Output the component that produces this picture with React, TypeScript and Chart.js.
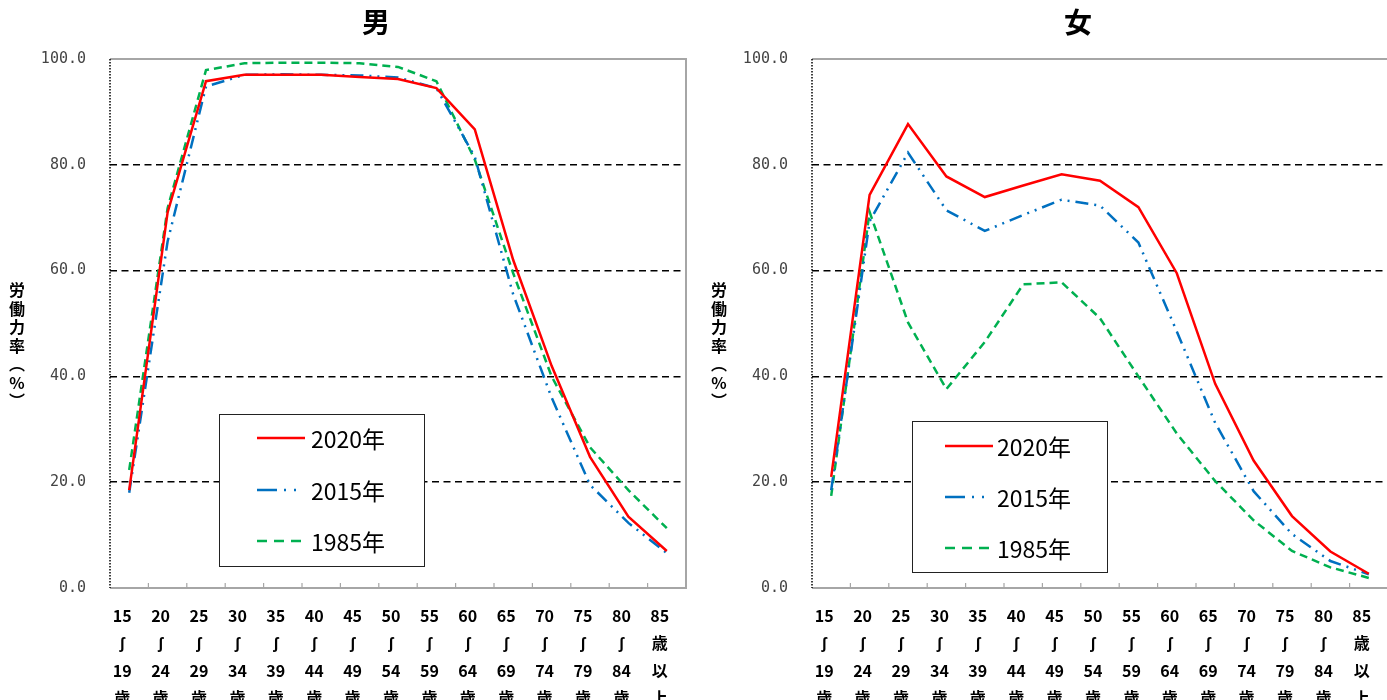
import React, { useEffect, useRef } from "react";
import { Chart, registerables } from "chart.js";

Chart.register(...registerables);

// ---------- data ----------
const ageFrom = ["15", "20", "25", "30", "35", "40", "45", "50", "55", "60", "65", "70", "75", "80", "85"];
const ageTo = ["19", "24", "29", "34", "39", "44", "49", "54", "59", "64", "69", "74", "79", "84"];
const lastLabel = ["85", "歳", "以", "上"];
const waveMark = "ʃ";
const yearUnit = "歳";

const seriesNames = ["2020年", "2015年", "1985年"];

const male2020 = [18.5, 71.0, 95.8, 97.0, 97.0, 97.0, 96.6, 96.2, 94.5, 86.7, 62.0, 42.0, 24.8, 13.5, 7.0];
const male2015 = [18.0, 65.5, 94.8, 97.0, 97.1, 97.0, 96.9, 96.5, 94.5, 81.5, 55.5, 36.0, 19.5, 12.3, 6.6];
const male1985 = [22.3, 71.8, 97.9, 99.2, 99.3, 99.3, 99.2, 98.5, 95.8, 81.0, 59.5, 40.0, 26.6, 18.5, 11.3];

const female2020 = [21.0, 74.3, 87.7, 77.8, 73.9, 76.1, 78.2, 77.0, 72.0, 59.5, 38.6, 24.1, 13.6, 6.9, 2.7];
const female2015 = [18.5, 69.3, 82.3, 71.4, 67.5, 70.5, 73.4, 72.3, 65.3, 48.5, 31.2, 18.3, 10.2, 5.1, 2.6];
const female1985 = [17.4, 71.1, 50.2, 37.6, 46.5, 57.4, 57.8, 51.0, 40.0, 29.2, 20.2, 12.8, 7.0, 3.9, 1.9];

const yTicks = [0, 20, 40, 60, 80, 100];
const yTitle = "労働力率（%）";
const titleMale = "男";
const titleFemale = "女";

// ---------- styles ----------
const CJK = "'Noto Sans CJK JP', 'Noto Sans CJK SC', sans-serif";
const seriesStyles = [
  { color: "#ff0000", dash: [] as number[], legendDash: [] as number[] },
  { color: "#0070c0", dash: [13, 6, 2, 6, 2, 6], legendDash: [20, 7, 2, 8, 2, 20] },
  { color: "#00b050", dash: [8, 5], legendDash: [10, 7] },
];

const categories = ageFrom.map((f, i) => (i < ageTo.length ? [f, waveMark, ageTo[i], yearUnit] : lastLabel));

const decorPlugin = {
  id: "decor",
  beforeDatasetsDraw(chart: any) {
    const { ctx, chartArea } = chart;
    const { left, right, top, bottom } = chartArea;
    const xs = chart.scales.x;
    ctx.save();
    ctx.strokeStyle = "#a6a6a6";
    ctx.lineWidth = 2;
    ctx.beginPath();
    ctx.moveTo(left, top);
    ctx.lineTo(right, top);
    ctx.lineTo(right, bottom);
    ctx.lineTo(left, bottom);
    ctx.stroke();
    // category boundary ticks
    ctx.lineWidth = 1.2;
    ctx.beginPath();
    for (let i = 1; i < categories.length; i++) {
      const x = (xs.getPixelForValue(i - 1) + xs.getPixelForValue(i)) / 2;
      ctx.moveTo(x, bottom - 5);
      ctx.lineTo(x, bottom);
    }
    ctx.stroke();
    // dotted left axis
    ctx.strokeStyle = "#000";
    ctx.lineWidth = 1.5;
    ctx.setLineDash([1.5, 1.5]);
    ctx.beginPath();
    ctx.moveTo(left, top);
    ctx.lineTo(left, bottom);
    ctx.stroke();
    ctx.restore();
  },
  afterDraw(chart: any, _args: any, opts: any) {
    const { ctx } = chart;
    ctx.save();
    // title
    ctx.fillStyle = "#000";
    ctx.font = `bold 28px ${CJK}`;
    ctx.textAlign = "center";
    ctx.textBaseline = "middle";
    ctx.fillText(opts.title, chart.width / 2, 22);
    // vertical y title
    ctx.font = `bold 16px ${CJK}`;
    const chars = Array.from(yTitle).map((c) => (c === "（" ? "︵" : c === "）" ? "︶" : c));
    chars.forEach((c, i) => {
      ctx.fillText(c, 17, 290 + i * 18.5);
    });
    // legend
    const b = opts.legend;
    ctx.fillStyle = "#fff";
    ctx.fillRect(b.x, b.y, b.w, b.h);
    ctx.strokeStyle = "#222";
    ctx.lineWidth = 1;
    ctx.strokeRect(b.x + 0.5, b.y + 0.5, b.w, b.h);
    seriesNames.forEach((name, i) => {
      const y = b.rows[i];
      const st = seriesStyles[i];
      ctx.strokeStyle = st.color;
      ctx.lineWidth = 2.5;
      ctx.setLineDash(st.legendDash);
      ctx.beginPath();
      ctx.moveTo(b.sx1, y);
      ctx.lineTo(b.sx2, y);
      ctx.stroke();
      ctx.setLineDash([]);
      ctx.fillStyle = "#000";
      ctx.font = `23px ${CJK}`;
      ctx.textAlign = "left";
      ctx.textBaseline = "middle";
      ctx.fillText(name, b.tx, y + 1);
    });
    ctx.restore();
  },
};

function makeConfig(title: string, series: number[][], legend: any): any {
  return {
    type: "line",
    data: {
      labels: categories,
      datasets: series.map((d, i) => ({
        label: seriesNames[i],
        data: d,
        borderColor: seriesStyles[i].color,
        backgroundColor: seriesStyles[i].color,
        borderWidth: 2.5,
        borderDash: seriesStyles[i].dash,
        pointRadius: 0,
        tension: 0,
        fill: false,
      })),
    },
    options: {
      animation: false,
      responsive: false,
      maintainAspectRatio: false,
      layout: { padding: { top: 59, right: 66, left: 0, bottom: 0 } },
      plugins: {
        legend: { display: false },
        title: { display: false },
        tooltip: { enabled: false },
        decor: { title, legend },
      },
      scales: {
        x: {
          type: "category",
          offset: true,
          grid: { display: false },
          border: { display: false },
          ticks: {
            color: "#000",
            font: { family: CJK, size: 16, weight: "bold", lineHeight: 1.72 },
            padding: 6,
            labelOffset: -7,
            maxRotation: 0,
            autoSkip: false,
          },
          afterFit: (s: any) => {
            s.height = 112;
          },
        },
        y: {
          min: yTicks[0],
          max: yTicks[yTicks.length - 1],
          afterBuildTicks: (s: any) => {
            s.ticks = yTicks.map((v) => ({ value: v }));
          },
          ticks: {
            callback: (v: any) => Number(v).toFixed(1),
            color: "#444",
            font: { family: "'DejaVu Sans Mono', monospace", size: 15 },
            padding: 24,
          },
          grid: {
            color: (c: any) =>
              c.tick && c.tick.value > yTicks[0] && c.tick.value < yTicks[yTicks.length - 1] ? "#000" : "rgba(0,0,0,0)",
            lineWidth: 1.5,
            drawTicks: false,
          },
          border: { display: false, dash: [7, 4.5] },
          afterFit: (s: any) => {
            s.width = 110;
          },
        },
      },
    },
    plugins: [decorPlugin],
  };
}

export default function App() {
  const leftRef = useRef<HTMLCanvasElement>(null);
  const rightRef = useRef<HTMLCanvasElement>(null);

  useEffect(() => {
    document.body.style.margin = "0";
    const c1 = new Chart(
      leftRef.current as HTMLCanvasElement,
      makeConfig(titleMale, [male2020, male2015, male1985], {
        x: 219, y: 414, w: 205, h: 152, sx1: 257, sx2: 305, tx: 311, rows: [438, 490, 541],
      })
    );
    const c2 = new Chart(
      rightRef.current as HTMLCanvasElement,
      makeConfig(titleFemale, [female2020, female2015, female1985], {
        x: 210, y: 421, w: 195, h: 151, sx1: 243, sx2: 291, tx: 295, rows: [446, 497, 548],
      })
    );
    return () => {
      c1.destroy();
      c2.destroy();
    };
  }, []);

  return (
    <div style={{ position: "fixed", left: 0, top: 0, width: 1387, height: 700, overflow: "hidden", background: "#fff" }}>
      <canvas ref={leftRef} width={752} height={700} style={{ position: "absolute", left: 0, top: 0 }} />
      <canvas ref={rightRef} width={752} height={700} style={{ position: "absolute", left: 702, top: 0 }} />
    </div>
  );
}
